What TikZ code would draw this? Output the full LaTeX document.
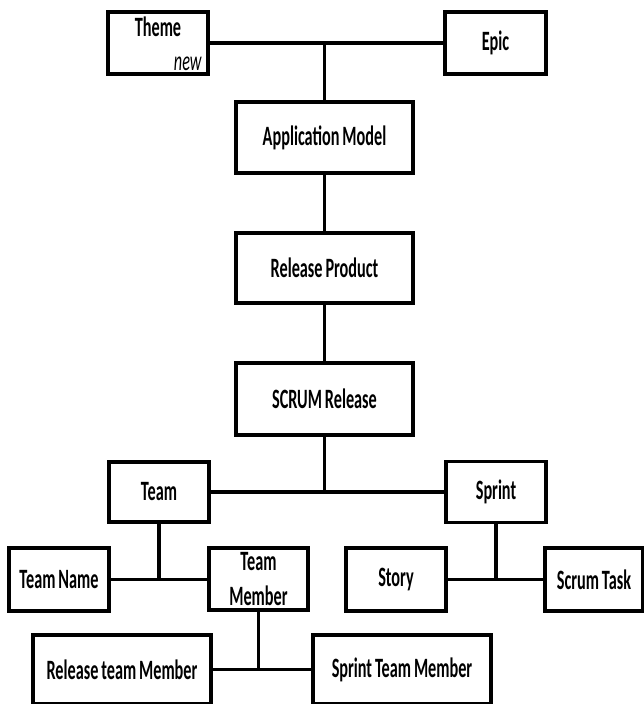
\documentclass[tikz,border=0pt]{standalone}
\usepackage{fontspec}
\setmainfont{Carlito}[FakeStretch=0.58,WordSpace=0.8]
\usetikzlibrary{calc}

\begin{document}
\begin{tikzpicture}[x=1pt,y=-1pt,
                box/.style={draw,line width=3.5pt,rectangle,inner sep=0pt,
                            font=\fontsize{28}{35}\selectfont\bfseries,align=center},
                link/.style={line width=3.2pt}]
                \useasboundingbox (0,0) rectangle (644,704);
                \node[box,minimum width=100,minimum height=62] (theme) at (158,43) {};
                \node[anchor=north,inner sep=0pt,font=\fontsize{28}{30}\selectfont\bfseries] (themetxt) at ($(theme.north)+(0,6)$) {Theme};
                \node[anchor=south east,inner sep=0pt,font=\fontsize{28}{30}\selectfont\itshape] (themenew) at ($(theme.south east)+(-8,-5)$) {new};
                \node[box,minimum width=101,minimum height=62] (epic) at (495.5,43) {Epic};
                \node[box,minimum width=177,minimum height=71] (appmodel) at (324.5,137.5) {Application Model};
                \node[box,minimum width=177,minimum height=70] (relprod) at (324.5,268) {Release Product};
                \node[box,minimum width=177,minimum height=72] (scrumrel) at (324.5,399) {SCRUM Release};
                \node[box,minimum width=100,minimum height=60] (team) at (159,492) {Team};
                \node[box,minimum width=100,minimum height=61] (sprint) at (496,492) {Sprint};
                \node[box,minimum width=100,minimum height=63] (teamname) at (59,579.5) {Team Name};
                \node[box,minimum width=99,minimum height=62] (teammember) at (258.5,579) {Team\\Member};
                \node[box,minimum width=100,minimum height=63] (story) at (396,579.5) {Story};
                \node[box,minimum width=98,minimum height=63] (scrumtask) at (594,579.5) {Scrum Task};
                \node[box,minimum width=178,minimum height=69] (relmember) at (122,669.5) {Release team Member};
                \node[box,minimum width=178,minimum height=69] (sprmember) at (402,669.5) {Sprint Team Member};
                % connectors
                \draw[link] (theme.east) -- (epic.west);
                \draw[link] (appmodel.north) -- (appmodel.north |- theme.east);
                \draw[link] (appmodel.south) -- (relprod.north);
                \draw[link] (relprod.south) -- (scrumrel.north);
                \draw[link] (team.east) -- (sprint.west);
                \draw[link] (scrumrel.south) -- (scrumrel.south |- team.east);
                \draw[link] (teamname.east) -- (teammember.west |- teamname.east);
                \draw[link] (team.south) -- (team.south |- teamname.east);
                \draw[link] (story.east) -- (scrumtask.west);
                \draw[link] (sprint.south) -- (sprint.south |- story.east);
                \draw[link] (relmember.east) -- (sprmember.west);
                \draw[link] (teammember.south) -- (teammember.south |- relmember.east);
            \end{tikzpicture}
\end{document}
